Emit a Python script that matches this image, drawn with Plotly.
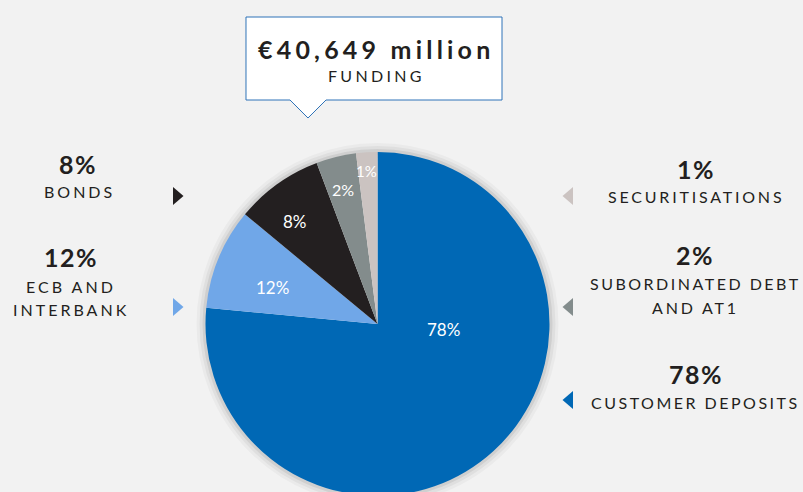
import plotly.graph_objects as go

W, H = 803, 500  # viewport shows top 492px; pie runs off the bottom like the reference

# ---- data ----
categories = ["Customer deposits", "ECB and interbank", "Bonds",
              "Subordinated debt and AT1", "Securitisations"]
slice_shares = [76.5, 9.5, 8.25, 3.75, 2.0]          # drawn slice sizes
pct_labels = ["78%", "12%", "8%", "2%", "1%"]         # printed labels
colors = ["#0068b5", "#70a7e8", "#231f20", "#838c8c", "#cbc3c1"]
total_text = "€40,649 million"
total_sub = "FUNDING"

BG = "#f2f2f2"
DARK = "#231f20"
FONT = "Lato"


def px(x):
    return x / W


def py(y):
    return 1 - y / H


# pie placement (pixels)
cx, cy, r = 377.5, 324, 172
dom_x = [px(cx - r), px(cx + r)]
dom_y = [py(cy + r), py(cy - r)]

fig = go.Figure()

# soft shadow halo
for lw, a in [(18, 0.03), (12, 0.045), (6, 0.07)]:
    fig.add_trace(go.Pie(values=[1], labels=["shadow"], domain=dict(x=dom_x, y=dom_y),
                         marker=dict(colors=["rgba(0,0,0,0)"],
                                     line=dict(color=f"rgba(0,0,0,{a})", width=lw)),
                         textinfo="none", hoverinfo="skip", showlegend=False, sort=False))

fig.add_trace(go.Pie(values=slice_shares, labels=categories, domain=dict(x=dom_x, y=dom_y),
                     marker=dict(colors=colors, line=dict(width=0)),
                     sort=False, direction="clockwise", rotation=0,
                     textinfo="none", hoverinfo="label", showlegend=False))

ann = []


def text(x, y, s, size, bold=False, color=DARK, spacing=0, anchor="center"):
    t = f"<span style='letter-spacing:{spacing}px'>{s}</span>" if spacing else s
    if bold:
        t = f"<b>{t}</b>"
    ann.append(dict(x=px(x), y=py(y), xref="paper", yref="paper", text=t, showarrow=False,
                    xanchor=anchor, yanchor="middle",
                    font=dict(family=FONT, size=size, color=color)))


# in-slice labels
slice_label_pos = [(443, 329, 17), (272, 287, 17), (295, 222, 17), (343, 189, 16), (366, 171, 15)]
for (x, y, s), lab in zip(slice_label_pos, pct_labels):
    text(x, y, lab, s, color="white")

# callout
text(376, 49, total_text, 25, bold=True, spacing=4.2)
text(376, 75, total_sub, 16, spacing=3.3)

# left legend
text(78, 164, pct_labels[2], 25, bold=True, spacing=1.5)
text(79, 191, "BONDS", 16, spacing=3)
text(71, 257, pct_labels[1], 25, bold=True, spacing=1.5)
text(71, 286, "ECB AND", 16, spacing=3)
text(71, 309, "INTERBANK", 16, spacing=3)

# right legend
text(696, 169, pct_labels[4], 25, bold=True, spacing=1.5)
text(696, 196, "SECURITISATIONS", 16, spacing=2.8)
text(695, 255, pct_labels[3], 25, bold=True, spacing=1.5)
text(695, 283, "SUBORDINATED DEBT", 16, spacing=2.5)
text(695, 307, "AND AT1", 16, spacing=2.8)
text(696, 374, pct_labels[0], 25, bold=True, spacing=1.5)
text(695, 402, "CUSTOMER DEPOSITS", 16, spacing=2.5)

shapes = []


def path(pts, fill, line=None, lw=0):
    d = "M " + " L ".join(f"{px(x):.5f},{py(y):.5f}" for x, y in pts) + " Z"
    shapes.append(dict(type="path", path=d, xref="paper", yref="paper",
                       fillcolor=fill, line=dict(color=line or fill, width=lw), layer="above"))


# callout box with pointer
path([(246, 100), (246, 17), (502, 17), (502, 100), (326, 100), (308, 118), (290, 100)],
     "white", line="#2f73b8", lw=1)

# legend triangles
tri_right = [(173, 196, colors[2]), (173, 307, colors[1])]
for x, y, c in tri_right:
    path([(x, y - 9), (x + 10.5, y), (x, y + 9)], c)
tri_left = [(573, 196, colors[4]), (573, 307, colors[3]), (573, 400, colors[0])]
for x, y, c in tri_left:
    path([(x, y - 9), (x - 10.5, y), (x, y + 9)], c)

fig.update_layout(width=W, height=H, margin=dict(l=0, r=0, t=0, b=0),
                  paper_bgcolor=BG, plot_bgcolor=BG, showlegend=False,
                  annotations=ann, shapes=shapes)

fig.write_html("out.html", config={"displayModeBar": False}, post_script=(
    "document.body.style.margin='0';"
    "document.body.style.overflow='hidden';"
    "document.documentElement.style.overflow='hidden';"
    "document.documentElement.style.background='#f2f2f2';"))
